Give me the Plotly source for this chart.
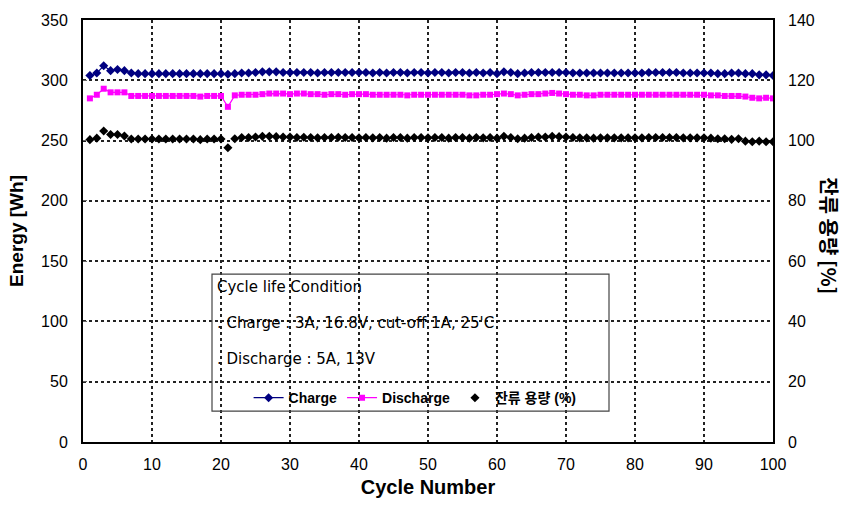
import plotly.graph_objects as go

cycles = list(range(1, 101))

charge_wh = [
    304, 306, 312, 308, 309, 308, 306, 305.5, 305.5, 305.5,
    305.5, 305.5, 305.5, 305.5, 305.5, 305.5, 305.5, 305.5, 305.5, 305.5,
    305, 305.5, 306, 306, 306.5, 307, 307, 307, 306.5, 306.5,
    306.5, 306.5, 306.5, 306, 306.5, 306.5, 306.5, 306.5, 306.5, 306.5,
    306.5, 306, 306.5, 306, 306.5, 306.5, 306, 306.5, 306.5, 306,
    306.5, 306.5, 306, 306.5, 306.5, 306, 306.5, 306, 306.5, 305.5,
    307, 306.5, 305.5, 306, 306.5, 306.5, 306.5, 306.5, 306.5, 306.5,
    306, 306, 306, 306, 306, 306, 306, 306, 306, 306,
    306, 306.5, 306.5, 306.5, 306.5, 306.5, 306, 306, 306, 306,
    306, 305.5, 305.5, 306, 306, 305.5, 305.5, 304.5, 304.5, 304,
]

discharge_wh = [
    285, 288, 293, 290, 290, 290, 287, 287, 287, 287,
    287, 287, 287, 287, 287, 287, 286.5, 287, 287, 287,
    278, 287.5, 288, 288, 288, 288.5, 289, 289, 289, 288.5,
    289, 289, 288.5, 288.5, 288, 288.5, 288.5, 288, 288.5, 288.5,
    288.5, 288, 288, 288, 288, 288, 287.5, 288, 288, 288,
    288, 288, 288, 288, 288, 287.5, 287.5, 288, 288, 288.5,
    289, 288.5, 287.5, 288, 288.5, 288.5, 289, 289.5, 289, 288.5,
    288, 288, 287.5, 287.5, 288, 288, 288, 288, 288, 288,
    288, 288, 288, 288, 288, 288, 288, 288, 288, 288,
    287.5, 287.5, 287, 287, 287, 286.5, 285.5, 285, 285.5, 285,
]

retention_pct = [
    100.3, 100.8, 103.2, 102.0, 102.0, 101.5, 100.5, 100.5, 100.5, 100.5,
    100.5, 100.5, 100.5, 100.5, 100.5, 100.5, 100.3, 100.5, 100.5, 100.5,
    97.6, 100.6, 101.0, 101.0, 101.2, 101.4, 101.4, 101.3, 101.2, 101.2,
    101.0, 101.1, 101.0, 100.9, 101.0, 101.0, 101.1, 101.0, 101.0, 100.9,
    101.0, 100.9, 101.0, 100.8, 101.0, 101.0, 100.8, 101.0, 101.0, 100.9,
    101.0, 101.0, 100.8, 101.0, 101.0, 100.8, 101.0, 100.9, 101.0, 100.8,
    101.4, 101.0, 100.6, 100.8, 101.0, 101.2, 101.2, 101.4, 101.3, 101.2,
    101.0, 100.9, 100.9, 100.8, 100.9, 100.9, 100.9, 100.9, 100.9, 100.9,
    100.9, 101.0, 101.0, 101.0, 101.0, 101.0, 100.9, 100.9, 100.9, 100.9,
    100.8, 100.6, 100.6, 100.4, 100.6, 99.8, 99.6, 99.8, 99.6, 99.6,
]

x_ticks = list(range(0, 101, 10))
y_ticks = list(range(0, 351, 50))
y2_ticks = list(range(0, 141, 20))

series_names = ["Charge", "Discharge", "잔류 용량 (%)"]
box_lines = [
    "Cycle life Condition",
    ". Charge : 3A, 16.8V, cut-off 1A, 25'C",
    ". Discharge : 5A, 13V",
]

FONT = "Liberation Sans, Arial, Noto Sans CJK KR, sans-serif"
BOX_FONT = "DejaVu Sans, sans-serif"
TITLE_FONT = "Liberation Sans Narrow, Liberation Sans, Noto Sans CJK KR, sans-serif"

fig = go.Figure()
fig.add_trace(go.Scatter(
    x=cycles, y=charge_wh, name=series_names[0], mode="lines+markers",
    line=dict(color="#000080", width=1.2),
    marker=dict(symbol="diamond", size=7, color="#000080"),
))
fig.add_trace(go.Scatter(
    x=cycles, y=discharge_wh, name=series_names[1], mode="lines+markers",
    line=dict(color="#FF00FF", width=1.2),
    marker=dict(symbol="square", size=6, color="#FF00FF"),
))
fig.add_trace(go.Scatter(
    x=cycles, y=retention_pct, name=series_names[2], mode="markers",
    yaxis="y2",
    marker=dict(symbol="diamond", size=7, color="black"),
))

fig.update_layout(
    width=852, height=513,
    margin=dict(l=83, r=79, t=20, b=71),
    paper_bgcolor="white", plot_bgcolor="white",
    font=dict(family=FONT, size=16, color="black"),
    xaxis=dict(
        range=[0, 100], tickvals=x_ticks, showgrid=True,
        gridcolor="#222", griddash="dot", gridwidth=1.5,
        showline=True, linecolor="black", linewidth=2, mirror=True,
        ticks="", ticklabelstandoff=7, zeroline=False,
        tickfont=dict(size=16, family=FONT),
        title=dict(text="<b>Cycle Number</b>", font=dict(size=20, family=TITLE_FONT), standoff=8),
    ),
    yaxis=dict(
        range=[0, 350], tickvals=y_ticks, showgrid=True,
        gridcolor="#222", griddash="dot", gridwidth=1.5,
        showline=True, linecolor="black", linewidth=2, mirror=True,
        ticks="inside", ticklen=4, tickcolor="#666", ticklabelstandoff=10, zeroline=False,
        tickfont=dict(size=16, family=FONT),
        title=dict(text="<b>Energy [Wh]</b>", font=dict(size=19, family=TITLE_FONT), standoff=12),
    ),
    yaxis2=dict(
        range=[0, 140], tickvals=y2_ticks, overlaying="y", side="right",
        showgrid=False, zeroline=False, showline=False,
        ticks="", ticklabelstandoff=14,
        tickfont=dict(size=16, family=FONT),
    ),
    legend=dict(
        orientation="h", x=0.24, xanchor="left", y=0.104, yanchor="middle",
        bgcolor="rgba(0,0,0,0)", font=dict(size=14, family=FONT, weight="bold"),
        itemwidth=30,
    ),
    showlegend=True,
)

# condition box
fig.add_shape(type="rect", xref="paper", yref="paper",
              x0=(212 - 83) / 690, x1=(609 - 83) / 690,
              y0=(442 - 411) / 422.5, y1=(442 - 274) / 422.5,
              line=dict(color="#444", width=1.2), fillcolor="rgba(0,0,0,0)")

text_y = [287, 323, 359]
for t, yy in zip(box_lines, text_y):
    fig.add_annotation(text=t, xref="paper", yref="paper",
                       x=(215 - 83) / 690, y=(442 - yy) / 422.5,
                       xanchor="left", yanchor="middle", showarrow=False,
                       font=dict(size=15, family=BOX_FONT))

# right axis title (rotated clockwise)
fig.add_annotation(text="<b>잔류 용량 [%]</b>", xref="paper", yref="paper",
                   x=(830 - 83) / 690, y=(442 - 235) / 422.5,
                   xanchor="center", yanchor="middle", textangle=90, showarrow=False,
                   font=dict(size=20, family="Noto Sans CJK KR, sans-serif"))

fig.write_html("out.html")
